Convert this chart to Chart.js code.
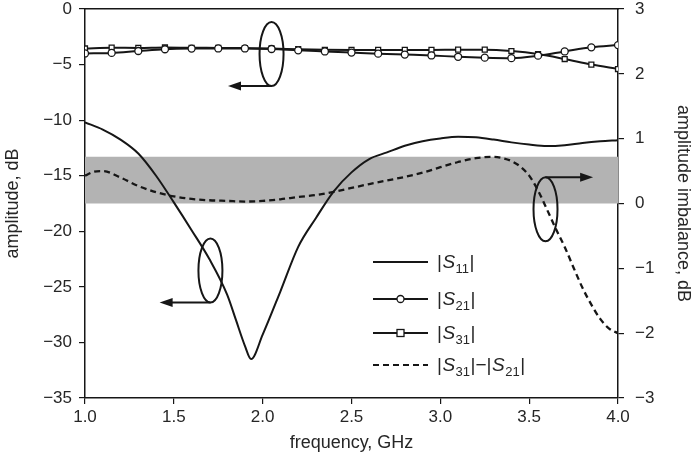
<!DOCTYPE html>
<html><head><meta charset="utf-8">
<script src="https://cdn.jsdelivr.net/npm/chart.js@4.4.1/dist/chart.umd.min.js"></script>
<style>html,body{margin:0;padding:0;background:#fff;}</style>
</head><body>
<canvas id="c" width="697" height="465"></canvas>
<script>
// ---- data ----
const s11Freq = [1.0,1.1,1.2,1.3,1.4,1.5,1.6,1.7,1.8,1.85,1.9,1.935,2.0,2.1,2.2,2.3,2.4,2.5,2.6,2.7,2.8,2.9,3.0,3.1,3.2,3.3,3.4,3.5,3.6,3.7,3.8,3.9,4.0];
const s11Amp  = [-10.2,-10.85,-11.75,-13.0,-15.0,-17.4,-19.9,-22.5,-25.7,-28.0,-30.3,-31.5,-29.3,-25.4,-21.4,-18.8,-16.4,-14.7,-13.5,-12.9,-12.3,-11.9,-11.65,-11.5,-11.55,-11.75,-12.0,-12.2,-12.33,-12.25,-12.05,-11.9,-11.8];

const markerFreq = [1.00,1.15,1.30,1.45,1.60,1.75,1.90,2.05,2.20,2.35,2.50,2.65,2.80,2.95,3.10,3.25,3.40,3.55,3.70,3.85,4.00];
const s21Amp = [-4.00,-3.95,-3.78,-3.62,-3.56,-3.55,-3.55,-3.60,-3.72,-3.82,-3.92,-4.02,-4.10,-4.18,-4.30,-4.38,-4.42,-4.20,-3.82,-3.45,-3.25];
const s31Amp = [-3.55,-3.48,-3.50,-3.46,-3.49,-3.50,-3.52,-3.55,-3.62,-3.67,-3.68,-3.68,-3.68,-3.68,-3.66,-3.66,-3.78,-4.05,-4.50,-5.00,-5.40];

const imbFreq   = [1.0,1.05,1.1,1.2,1.3,1.4,1.5,1.6,1.7,1.8,1.9,2.0,2.1,2.2,2.3,2.4,2.5,2.6,2.7,2.8,2.9,3.0,3.1,3.2,3.3,3.35,3.4,3.45,3.5,3.55,3.6,3.65,3.7,3.75,3.8,3.85,3.9,3.95,4.0];
const imbalance = [0.43,0.49,0.50,0.40,0.27,0.175,0.11,0.07,0.05,0.04,0.03,0.04,0.065,0.10,0.13,0.18,0.24,0.30,0.355,0.41,0.475,0.56,0.64,0.70,0.72,0.70,0.655,0.57,0.43,0.20,-0.09,-0.39,-0.67,-0.99,-1.30,-1.56,-1.78,-1.93,-2.0];

const bandRange = [0, 0.72];          // shaded imbalance spec band (right axis)
const xRange = [1.0, 4.0], xStep = 0.5;
const yLeftRange = [-35, 0], yLeftStep = 5;
const yRightRange = [-3, 3], yRightStep = 1;

// annotation ellipses: centre in data units, which axis, arrow direction & target frequency
const callouts = [
  {f:2.05,  v:-4.05,  axis:'y',  from:'bottom', toF:1.805},
  {f:1.706, v:-23.53, axis:'y',  from:'bottom', toF:1.42},
  {f:3.592, v:-0.09,  axis:'y2', from:'top',    toF:3.86}
];

const legendItems = [
  {style:'solid',  parts:[['|'],['S','i'],['11','s'],['|']]},
  {style:'circle', parts:[['|'],['S','i'],['21','s'],['|']]},
  {style:'square', parts:[['|'],['S','i'],['31','s'],['|']]},
  {style:'dashed', parts:[['|'],['S','i'],['31','s'],['|−|'],['S','i'],['21','s'],['|']]}
];

// ---- build ----
const zip = (xs, ys) => xs.map((x,i)=>({x:x, y:ys[i]}));
const INK = '#161616', TXT = '#262626';
const FONT = "'Liberation Sans', Arial, sans-serif";
const minus = v => v < 0 ? '−' + Math.abs(v) : String(v);

const annot = {
  id:'annot',
  afterDatasetsDraw(chart){
    const ctx = chart.ctx, sx = chart.scales.x, ca = chart.chartArea;
    ctx.save();
    ctx.strokeStyle = INK; ctx.fillStyle = INK; ctx.lineWidth = 2;
    const rx = 12, ry = 32;
    callouts.forEach(c=>{
      const px = sx.getPixelForValue(c.f), py = chart.scales[c.axis].getPixelForValue(c.v);
      ctx.beginPath(); ctx.ellipse(px, py, rx, ry, 0, 0, Math.PI*2); ctx.stroke();
      const ay = c.from === 'bottom' ? py + ry : py - ry;
      const tx = sx.getPixelForValue(c.toF);
      const dir = tx < px ? -1 : 1;
      ctx.beginPath(); ctx.moveTo(px, ay); ctx.lineTo(tx - dir*10, ay); ctx.stroke();
      ctx.beginPath(); ctx.moveTo(tx, ay); ctx.lineTo(tx - dir*13, ay - 4.5); ctx.lineTo(tx - dir*13, ay + 4.5); ctx.closePath(); ctx.fill();
    });
    // legend
    const lx0 = ca.left + 288, lx1 = ca.left + 343, tx0 = ca.left + 352;
    const rows = [ca.top + 253, ca.top + 290, ca.top + 324, ca.top + 356];
    legendItems.forEach((it, i)=>{
      const y = rows[i];
      ctx.lineWidth = 2; ctx.strokeStyle = INK;
      ctx.setLineDash(it.style === 'dashed' ? [6,4] : []);
      ctx.beginPath(); ctx.moveTo(lx0, y); ctx.lineTo(lx1, y); ctx.stroke();
      ctx.setLineDash([]);
      const mx = (lx0 + lx1)/2;
      ctx.fillStyle = '#fff'; ctx.lineWidth = 1.3;
      if (it.style === 'circle'){ ctx.beginPath(); ctx.arc(mx, y, 3.5, 0, Math.PI*2); ctx.fill(); ctx.stroke(); }
      if (it.style === 'square'){ ctx.fillRect(mx-3.5, y-3.5, 7, 7); ctx.strokeRect(mx-3.5, y-3.5, 7, 7); }
      let x = tx0;
      ctx.fillStyle = TXT; ctx.textBaseline = 'middle'; ctx.textAlign = 'left';
      it.parts.forEach(p=>{
        if (p[1] === 's'){ ctx.font = `13px ${FONT}`; ctx.fillText(p[0], x, y + 7); }
        else if (p[1] === 'i'){ ctx.font = `italic 19px ${FONT}`; ctx.fillText(p[0], x, y + 1); }
        else { ctx.font = `19px ${FONT}`; ctx.fillText(p[0], x, y + 1); }
        x += ctx.measureText(p[0]).width + 0.5;
      });
    });
    ctx.restore();
  }
};

const lineDs = (label, data, extra) => Object.assign({
  label, data, borderColor: INK, borderWidth: 2, pointRadius: 0, fill: false,
  cubicInterpolationMode: 'monotone', yAxisID: 'y'
}, extra);

const tickFont = {family:FONT, size:17};
const titleFont = {family:FONT, size:18};
const noPadV = s => { s.paddingTop = 0; s.paddingBottom = 0; };
const noPadH = s => { s.paddingLeft = 0; s.paddingRight = 0; };

new Chart(document.getElementById('c'), {
  type: 'line',
  data: { datasets: [
    lineDs('|S11|', zip(s11Freq, s11Amp)),
    lineDs('|S21|', zip(markerFreq, s21Amp), {pointRadius: 3.5, pointStyle:'circle', pointBackgroundColor:'#fff', pointBorderColor: INK, pointBorderWidth: 1.3}),
    lineDs('|S31|', zip(markerFreq, s31Amp), {pointRadius: 3.5, pointStyle:'rect', pointBackgroundColor:'#fff', pointBorderColor: INK, pointBorderWidth: 1.3}),
    lineDs('|S31|−|S21|', zip(imbFreq, imbalance), {borderDash:[6,4], borderWidth: 2.3, yAxisID: 'y2'}),
    {label:'band', data: [{x:xRange[0], y:bandRange[1]}, {x:xRange[1], y:bandRange[1]}], yAxisID:'y2',
     borderWidth: 0, pointRadius: 0, backgroundColor: '#b3b3b3', fill: {value: bandRange[0]}}
  ]},
  options: {
    responsive: false, animation: false, devicePixelRatio: 1,
    layout: { padding: 0 },
    plugins: { legend: {display:false}, tooltip: {enabled:false} },
    scales: {
      x: { type:'linear', position:'bottom', min:xRange[0], max:xRange[1],
        ticks: { stepSize:xStep, callback: v => v.toFixed(1), color:TXT, font:tickFont, padding:3, maxRotation:0 },
        grid: { drawOnChartArea:false, drawTicks:true, tickLength:6, color:INK, lineWidth:1.2 },
        border: { display:true, color:INK, width:1.5 },
        title: { display:true, text:'frequency, GHz', color:TXT, font:titleFont, padding:{top:0, bottom:11} },
        afterFit: s => { s.height = 67; noPadH(s); } },
      xTop: { type:'linear', position:'top', min:xRange[0], max:xRange[1],
        ticks: { display:false }, grid: { drawOnChartArea:false, drawTicks:false },
        border: { display:true, color:INK, width:1.5 },
        afterFit: s => { s.height = 9; noPadH(s); } },
      y: { type:'linear', position:'left', min:yLeftRange[0], max:yLeftRange[1],
        ticks: { stepSize:yLeftStep, callback: minus, color:TXT, font:tickFont, padding:7 },
        grid: { drawOnChartArea:false, drawTicks:true, tickLength:6, color:INK, lineWidth:1.2 },
        border: { display:true, color:INK, width:1.5 },
        title: { display:true, text:'amplitude, dB', color:TXT, font:titleFont, padding:{top:2, bottom:0} },
        afterFit: s => { s.width = 85; noPadV(s); } },
      y2: { type:'linear', position:'right', min:yRightRange[0], max:yRightRange[1],
        ticks: { stepSize:yRightStep, callback: minus, color:TXT, font:tickFont, padding:11 },
        grid: { drawOnChartArea:false, drawTicks:true, tickLength:6, color:INK, lineWidth:1.2 },
        border: { display:true, color:INK, width:1.5 },
        title: { display:true, text:'amplitude imbalance, dB', color:TXT, font:titleFont, padding:{top:3, bottom:0} },
        afterFit: s => { s.width = 79; noPadV(s); } }
    }
  },
  plugins: [annot]
});
</script>
</body></html>
